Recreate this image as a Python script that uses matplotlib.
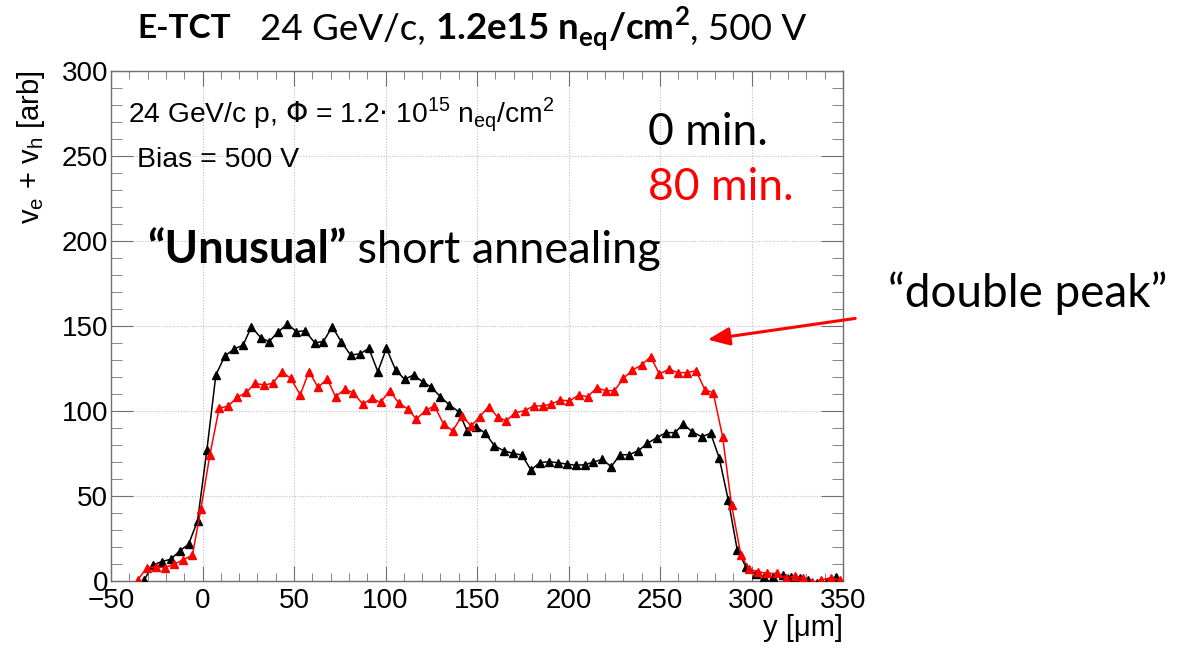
import matplotlib.pyplot as plt
from matplotlib.ticker import MultipleLocator
from matplotlib.offsetbox import TextArea, HPacker, AnnotationBbox

# E-TCT scan, 0 min. annealing (black)
pos_0min = [-31.9, -27.3, -22.4, -17.3, -12.4, -7.6, -2.7, 2.4, 7.3, 12.2, 17.3, 22.2, 26.7,
            31.8, 36.3, 41.5, 46.4, 51.3, 56.0, 61.3, 66.0, 70.9, 75.8, 80.9, 86.0, 90.9,
            95.8, 100.5, 105.5, 110.4, 115.4, 120.3, 125.1, 130.0, 134.9, 140.0, 144.6, 149.5,
            154.6, 159.5, 164.5, 169.7, 174.6, 179.5, 184.2, 189.1, 194.2, 199.1, 204.0, 209.1,
            213.6, 218.5, 223.3, 228.2, 233.1, 238.2, 243.1, 248.2, 253.3, 258.2, 262.7, 267.6,
            272.8, 277.7, 282.4, 287.3, 292.2, 296.9, 302.4, 306.9, 311.8, 317.0, 321.5, 326.4,
            330.9, 336.0, 341.0, 346.4]
sig_0min = [0.3, 9.2, 11.2, 12.6, 17.6, 21.4, 35.3, 76.9, 121, 132.2, 136.3, 138.6, 149.4,
            143, 140.6, 146.5, 151, 146.5, 147, 140, 140.6, 149.4, 140.6, 132.8, 133.4, 136.7,
            123, 136.7, 124, 118.5, 121, 117, 113.8, 108.2, 103.4, 99.4, 88.2, 90.6,
            86.7, 79.4, 76.5, 74.9, 73.9, 65.1, 69.4, 70, 69.4, 68.6, 67.9, 68.2,
            69.8, 71.4, 67.1, 74.1, 74.1, 76.5, 80.8, 84.1, 87.1, 87.1, 92.2, 87.6,
            84.7, 86.7, 72, 47.5, 18.1, 8.2, 3.9, 2.4, 2.4, 3.4, 2.4, 1.8,
            0.2, -1.5, -1.0, 2.4]

# after 80 min. annealing (red)
pos_80min = [-35.5, -30.4, -25.5, -20.6, -15.5, -10.6, -5.5, -0.9, 4.0, 9.1, 14.0, 19.1, 24.0,
             28.7, 33.6, 38.5, 43.3, 48.2, 53.4, 58.2, 63.1, 68.2, 72.7, 77.6, 82.4, 87.6,
             92.4, 97.3, 102.3, 107.3, 112.2, 116.9, 122.2, 126.7, 131.8, 136.7, 141.8, 146.8,
             151.5, 156.4, 161.4, 166.0, 170.9, 176.0, 180.9, 185.8, 190.6, 195.5, 200.4, 205.5,
             210.4, 215.5, 220.4, 225.1, 230.0, 234.9, 240.0, 244.9, 249.6, 254.9, 259.7, 264.6,
             269.7, 274.6, 279.1, 284.2, 289.1, 294.2, 298.7, 303.6, 308.6, 313.7, 318.8, 323.7,
             328.2, 333.2, 338.2, 343.3, 348.2]
sig_80min = [0.3, 7.6, 8.2, 7.6, 9.8, 12.2, 15.1, 42, 73.9, 101.4, 102.8, 107.9, 110.8,
             116.1, 115.1, 116.1, 123, 119, 109.4, 123, 113.8, 118.6, 108.2, 112.6, 110.6, 103.8,
             107.3, 104.9, 111.8, 104.4, 101, 95.1, 100.4, 102.8, 92, 88.2, 96.9, 91,
             96.5, 102.4, 96.1, 94.1, 98.8, 100, 102.8, 102.8, 103.9, 106.3, 105.7, 109.2,
             108.2, 113.5, 111.8, 111.8, 119, 123.9, 126.9, 131.8, 121.6, 124.4, 122.4, 122.4,
             123.5, 112.2, 110.6, 84.7, 44.5, 15.1, 6.7, 5.3, 4.3, 4.3, 1.4, 2.8,
             1.4, -1.0, 0.4, 1.8, 0.4]

x_ticks = [-50, 0, 50, 100, 150, 200, 250, 300, 350]
y_ticks = [0, 50, 100, 150, 200, 250, 300]

W, H = 1192, 649
ROOT_FONT = 'Liberation Sans'
SLIDE_FONT = 'Lato'

fig = plt.figure(figsize=(W / 100, H / 100), dpi=100)
ax = fig.add_axes([111 / W, 68.3 / H, 732 / W, 510 / H])

ax.plot(pos_0min, sig_0min, color='black', lw=1.1, marker='^', ms=5.5, zorder=3)
ax.plot(pos_80min, sig_80min, color='red', lw=1.1, marker='^', ms=5.5, zorder=4)

ax.set_xlim(-50, 350)
ax.set_ylim(0, 300)
ax.set_xticks(x_ticks)
ax.set_yticks(y_ticks)
ax.xaxis.set_minor_locator(MultipleLocator(10))
ax.yaxis.set_minor_locator(MultipleLocator(10))
ax.grid(True, which='major', color='#bdbdbd', linestyle=(0, (1, 1.5)), lw=0.8, zorder=0)

frame = '#707070'
for s in ax.spines.values():
    s.set_color(frame)
    s.set_linewidth(1.0)
ax.tick_params(which='both', direction='in', top=True, right=True, color=frame,
               labelsize=20, labelcolor='black')
ax.tick_params(axis='x', which='major', length=11, pad=5)
ax.tick_params(axis='x', which='minor', length=5.5)
ax.tick_params(axis='y', which='major', length=16, pad=2)
ax.tick_params(axis='y', which='minor', length=8)
for lab in ax.get_xticklabels() + ax.get_yticklabels():
    lab.set_fontfamily(ROOT_FONT)

ax.set_xlabel('y [\u03bcm]', fontsize=21, fontfamily=ROOT_FONT, loc='right')
ax.xaxis.set_label_coords(1.0, -0.065)
ax.set_ylabel(r'v$_\mathregular{e}$ + v$_\mathregular{h}$ [arb]', fontsize=21,
              fontfamily=ROOT_FONT, loc='top')
ax.yaxis.set_label_coords(-0.088, 1.0)


def px(x, y):
    return x / W, 1 - y / H


# ROOT labels inside the frame
fig.text(*px(128, 122), r'24 GeV/c p, $\Phi$ = 1.2$\cdot$ 10$^\mathregular{15}$ n$_\mathregular{eq}$/cm$^\mathregular{2}$',
         fontsize=20.3, fontfamily=ROOT_FONT, va='baseline')
fig.text(*px(137, 167), 'Bias = 500 V', fontsize=20.5, fontfamily=ROOT_FONT, va='baseline')

# slide annotations
fig.text(*px(648, 145), '0 min.', fontsize=32, fontfamily=SLIDE_FONT, va='baseline', color='black')
fig.text(*px(648, 200), '80 min.', fontsize=32, fontfamily=SLIDE_FONT, va='baseline', color='red')


def packed(parts, x, y):
    boxes = [TextArea(t, textprops=dict(fontfamily=SLIDE_FONT, fontsize=fs, fontweight=w, color='black'))
             for t, fs, w in parts]
    box = HPacker(children=boxes, align='baseline', pad=0, sep=0)
    ab = AnnotationBbox(box, px(x, y), xycoords='figure fraction', box_alignment=(0, 0.5),
                        frameon=False, pad=0, annotation_clip=False)
    fig.add_artist(ab)


packed([('\u201cUnusual\u201d', 32.5, 'bold'), (' short annealing', 32.5, 'normal')], 147, 250)
packed([('E-TCT', 24, 'bold')], 137, 28)
packed([('24 GeV/c, ', 26.5, 'normal'),
        (r'1.2e15 n$_\mathregular{eq}$/cm$^\mathregular{2}$', 26.5, 'bold'),
        (', 500 V', 26.5, 'normal')], 260, 29)

fig.text(*px(888, 307), '\u201cdouble peak\u201d', fontsize=33, fontfamily=SLIDE_FONT, va='baseline')
ax.annotate('', xy=(705, H - 340), xycoords='figure pixels',
            xytext=(858, H - 318), textcoords='figure pixels', annotation_clip=False,
            arrowprops=dict(arrowstyle='-|>,head_length=0.6,head_width=0.25',
                            mutation_scale=22, color='red', lw=2.2))

fig.savefig('out.png', dpi=100)
